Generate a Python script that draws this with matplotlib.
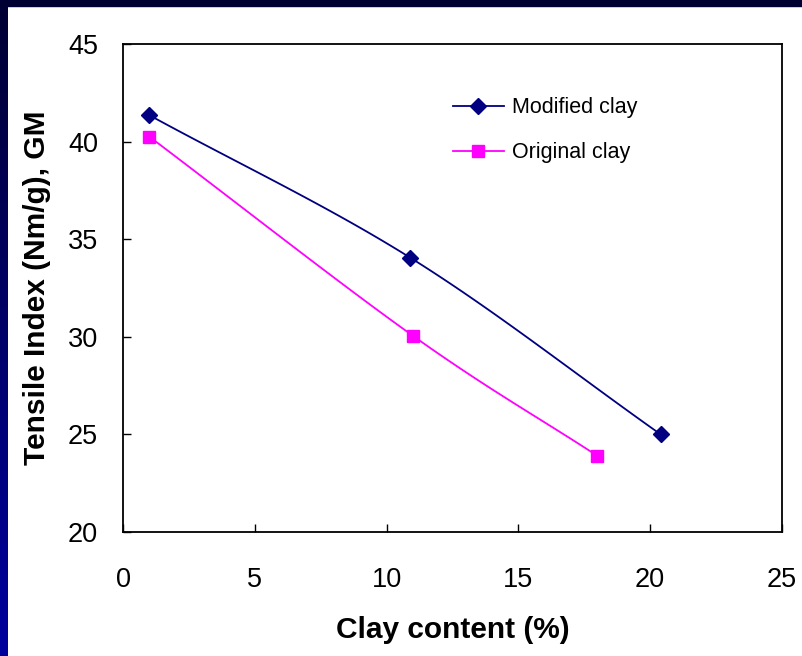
import numpy as np
import matplotlib
matplotlib.use("Agg")
import matplotlib.pyplot as plt

# data
mod_x = [1.0, 10.9, 20.4]
mod_y = [41.35, 34.05, 25.0]
orig_x = [1.0, 11.0, 18.0]
orig_y = [40.25, 30.05, 23.9]

x_ticks = [0, 5, 10, 15, 20, 25]
y_ticks = [20, 25, 30, 35, 40, 45]


def smooth(xs, ys, n=40):
    """Catmull-Rom curve through the points (like Excel smoothed line)."""
    p = np.column_stack([xs, ys]).astype(float)
    p = np.vstack([2 * p[0] - p[1], p, 2 * p[-1] - p[-2]])
    out = []
    for i in range(1, len(p) - 2):
        p0, p1, p2, p3 = p[i - 1], p[i], p[i + 1], p[i + 2]
        t = np.linspace(0, 1, n)[:, None]
        c = 0.5 * ((2 * p1) + (-p0 + p2) * t
                   + (2 * p0 - 5 * p1 + 4 * p2 - p3) * t ** 2
                   + (-p0 + 3 * p1 - 3 * p2 + p3) * t ** 3)
        out.append(c)
    c = np.vstack(out)
    return c[:, 0], c[:, 1]


plt.rcParams['font.family'] = ['Liberation Sans', 'DejaVu Sans']

fig = plt.figure(figsize=(8.02, 6.56), dpi=100)

# slide border: dark top bar and gradient left bar
bg = fig.add_axes([0, 0, 1, 1], zorder=-1)
bg.set_xlim(0, 802)
bg.set_ylim(656, 0)
bg.axis('off')
grad = np.linspace(0, 1, 256)[:, None]
cols = np.zeros((256, 1, 3))
cols[:, 0, 2] = 0.2 + 0.42 * grad[:, 0]
bg.imshow(cols, extent=[0, 8, 656, 0], aspect='auto')
bg.add_patch(plt.Rectangle((0, 0), 802, 6, color='#000033'))

ax = fig.add_axes([0.1534, 0.189, 0.8216, 0.744])

sx, sy = smooth(mod_x, mod_y)
ax.plot(sx, sy, color='#000080', lw=1.3)
ax.plot(mod_x, mod_y, 'D', color='#000080', ms=8)
ax.plot([], [], color='#000080', lw=1.3, marker='D', ms=8, label='Modified clay')

sx, sy = smooth(orig_x, orig_y)
ax.plot(sx, sy, color='#FF00FF', lw=1.3)
ax.plot(orig_x, orig_y, 's', color='#FF00FF', ms=8)
ax.plot([], [], color='#FF00FF', lw=1.3, marker='s', ms=8, label='Original clay')

ax.set_xlim(0, 25)
ax.set_ylim(20, 45)
ax.set_xticks(x_ticks)
ax.set_yticks(y_ticks)
ax.tick_params(direction='in', length=6, width=1, labelsize=19.5)
ax.tick_params(axis='x', pad=25)
ax.tick_params(axis='y', pad=18)
for s in ax.spines.values():
    s.set_linewidth(1.3)

ax.set_xlabel('Clay content (%)', fontsize=21.5, fontweight='bold')
ax.set_ylabel('Tensile Index (Nm/g), GM', fontsize=21.5, fontweight='bold')
ax.xaxis.set_label_coords(0.5, -0.172)
ax.yaxis.set_label_coords(-0.11, 0.5)

ax.legend(loc='upper left', bbox_to_anchor=(0.472, 0.93), frameon=False,
          fontsize=15.5, handlelength=2.33, handletextpad=0.37, labelspacing=1.1)

fig.savefig('out.png', dpi=100)
